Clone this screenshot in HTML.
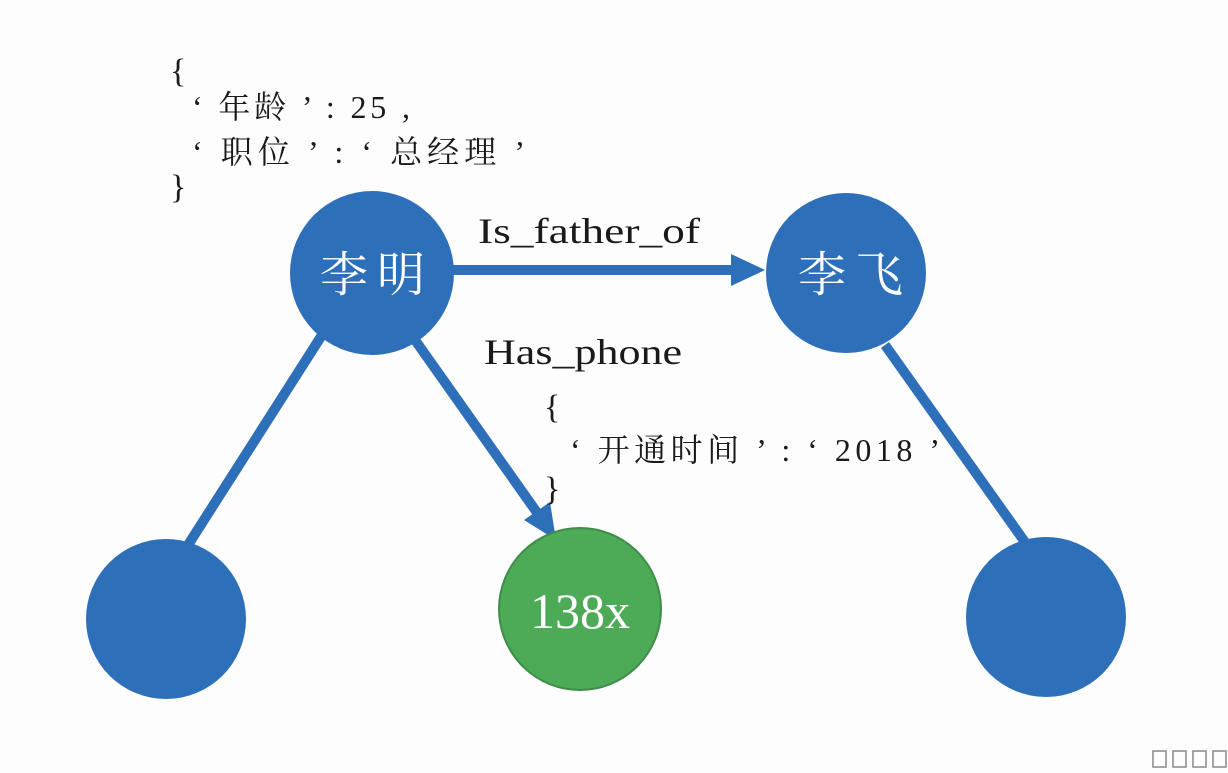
<!DOCTYPE html>
<html><head><meta charset="utf-8"><style>
html,body{margin:0;padding:0;background:#fdfdfd;}
svg{display:block;}
.t{font-family:"Liberation Serif","Noto Serif CJK SC",serif;fill:#1a1a1a;}
.w{font-family:"Liberation Serif","Noto Serif CJK SC",serif;fill:#fff;}
</style></head><body>
<svg width="1228" height="773" viewBox="0 0 1228 773" xmlns="http://www.w3.org/2000/svg">
<rect width="1228" height="773" fill="#fdfdfd"/>
<g stroke="#2e6fba" stroke-width="10" fill="none">
<line x1="322" y1="335" x2="188" y2="545"/>
<line x1="415" y1="340" x2="538" y2="514"/>
<line x1="450" y1="270" x2="735" y2="270"/>
<line x1="885" y1="345" x2="1027" y2="545"/>
</g>
<polygon points="765,270 731,254 731,286" fill="#2e6fba"/>
<polygon points="556,540 524,520 550,502" fill="#2e6fba"/>
<circle cx="372" cy="273" r="82" fill="#2e6fba"/>
<circle cx="846" cy="273" r="80" fill="#2e6fba"/>
<circle cx="166" cy="619" r="80" fill="#2e6fba"/>
<circle cx="580" cy="609" r="81" fill="#4daa57" stroke="#3f8d48" stroke-width="2"/>
<circle cx="1046" cy="617" r="80" fill="#2e6fba"/>
<text class="w" x="320" y="291" font-size="48" textLength="105" lengthAdjust="spacing">李明</text>
<text class="w" x="798" y="291" font-size="48" textLength="105" lengthAdjust="spacing">李飞</text>
<text class="w" x="580" y="628" font-size="50" text-anchor="middle">138x</text>
<text class="t" x="170" y="82" font-size="34">{</text>
<text class="t" x="192" y="118" font-size="32" textLength="218" lengthAdjust="spacing">‘ 年龄 ’ : 25 ,</text>
<text class="t" x="192" y="163" font-size="32" textLength="333" lengthAdjust="spacing">‘ 职位 ’ : ‘ 总经理 ’</text>
<text class="t" x="170" y="198" font-size="34">}</text>
<text class="t" x="478" y="243" font-size="36" textLength="222" lengthAdjust="spacingAndGlyphs">Is_father_of</text>
<text class="t" x="484" y="364" font-size="36" textLength="198" lengthAdjust="spacingAndGlyphs">Has_phone</text>
<text class="t" x="544" y="418" font-size="34">{</text>
<text class="t" x="570" y="461" font-size="32" textLength="370" lengthAdjust="spacing">‘ 开通时间 ’ :  ‘ 2018 ’</text>
<text class="t" x="544" y="500" font-size="34">}</text>
<g fill="none" stroke="#888" stroke-width="1.5">
<rect x="1153" y="751" width="13" height="16"/>
<rect x="1173" y="751" width="13" height="16"/>
<rect x="1193" y="751" width="13" height="16"/>
<rect x="1213" y="751" width="13" height="16"/>
</g>
</svg>
</body></html>
